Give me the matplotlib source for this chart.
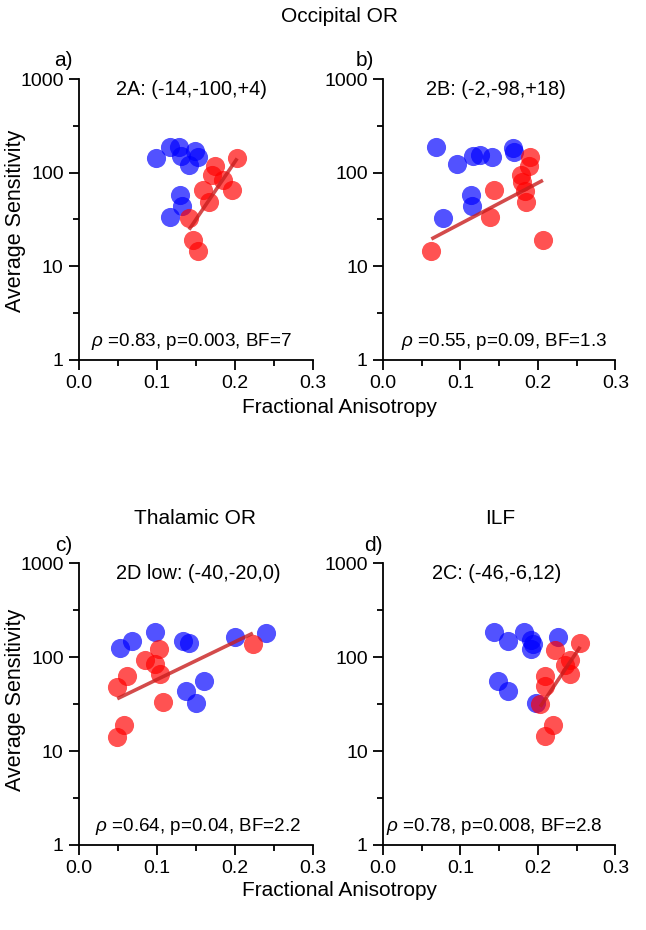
import numpy as np
import matplotlib
matplotlib.use("Agg")
from matplotlib import pyplot as plt
from matplotlib.ticker import FixedLocator, NullFormatter

plt.rcParams["font.family"] = ["Liberation Sans", "DejaVu Sans"]
plt.rcParams["mathtext.fontset"] = "custom"
plt.rcParams["mathtext.it"] = "Liberation Sans:italic"
plt.rcParams["mathtext.rm"] = "Liberation Sans"

# panel a: 2A
a_blue_x = [0.099, 0.117, 0.128, 0.131, 0.141, 0.149, 0.152, 0.130, 0.132, 0.116]
a_blue_y = [145, 186, 186, 152, 121, 170, 148, 58, 44.5, 34]
a_red_x = [0.2026, 0.174, 0.171, 0.184, 0.196, 0.159, 0.166, 0.141, 0.146, 0.152]
a_red_y = [142, 118, 94, 84, 66, 65, 49, 32.5, 19, 14.4]

# panel b: 2B
b_blue_x = [0.069, 0.0955, 0.116, 0.1256, 0.1406, 0.168, 0.1695, 0.114, 0.115, 0.078]
b_blue_y = [190, 124, 152, 154, 146, 182, 168, 58, 44.5, 33]
b_red_x = [0.190, 0.188, 0.1785, 0.180, 0.1837, 0.143, 0.1845, 0.1376, 0.2065, 0.0624]
b_red_y = [146, 118, 94, 80, 64, 66, 49, 34, 19, 14.4]

# panel c: 2D low
c_blue_x = [0.0527, 0.0685, 0.097, 0.133, 0.141, 0.2004, 0.240, 0.1606, 0.137, 0.150]
c_blue_y = [124, 148, 186, 149, 140, 162, 179, 56, 44, 32.5]
c_red_x = [0.2227, 0.1028, 0.0848, 0.0976, 0.104, 0.062, 0.049, 0.108, 0.0578, 0.049]
c_red_y = [136, 121, 94, 84, 66, 63, 48, 33, 19, 14]

# panel d: 2C
d_blue_x = [0.1437, 0.162, 0.182, 0.191, 0.1935, 0.191, 0.2254, 0.148, 0.162, 0.198]
d_blue_y = [186, 148, 186, 152, 136, 121, 165, 56, 43, 32.5]
d_red_x = [0.2546, 0.222, 0.241, 0.235, 0.2417, 0.2095, 0.2086, 0.203, 0.220, 0.2086]
d_red_y = [140, 119, 93, 82, 66, 63, 49, 32, 19, 14.4]

titles = ["2A: (-14,-100,+4)", "2B: (-2,-98,+18)", "2D low: (-40,-20,0)", "2C: (-46,-6,12)"]
stats = [
    r"$\rho$ =0.83, p=0.003, BF=7",
    r"$\rho$ =0.55, p=0.09, BF=1.3",
    r"$\rho$ =0.64, p=0.04, BF=2.2",
    r"$\rho$ =0.78, p=0.008, BF=2.8",
]
letters = ["a)", "b)", "c)", "d)"]

panels = [
    (a_blue_x, a_blue_y, a_red_x, a_red_y),
    (b_blue_x, b_blue_y, b_red_x, b_red_y),
    (c_blue_x, c_blue_y, c_red_x, c_red_y),
    (d_blue_x, d_blue_y, d_red_x, d_red_y),
]

rects = [
    [0.1223, 0.613, 0.3625, 0.302],
    [0.593, 0.613, 0.3595, 0.302],
    [0.1223, 0.0914, 0.3625, 0.3032],
    [0.593, 0.0914, 0.3595, 0.3032],
]
letter_pos = [(0.084, 0.935), (0.551, 0.935), (0.086, 0.413), (0.563, 0.413)]
title_x = [0.48, 0.485, 0.51, 0.49]
stat_x = [0.48, 0.52, 0.51, 0.48]

fig = plt.figure(figsize=(6.46, 9.30), dpi=100)

for i, (bx, by, rx, ry) in enumerate(panels):
    ax = fig.add_axes(rects[i])
    ax.scatter(bx, by, s=190, color=(0, 0, 1), alpha=0.68, linewidths=0, zorder=2)
    ax.scatter(rx, ry, s=190, color=(1, 0, 0), alpha=0.68, linewidths=0, zorder=3)

    # linear fit in log space over the red points
    rx_arr = np.array(rx)
    k, b = np.polyfit(rx_arr, np.log10(ry), 1)
    xs = np.array([rx_arr.min(), rx_arr.max()])
    ax.plot(xs, 10 ** (k * xs + b), color="#c81e1e", alpha=0.8, lw=2.6,
            solid_capstyle="butt", zorder=4)

    ax.set_yscale("log")
    ax.set_xlim(0, 0.3)
    ax.set_ylim(1, 1000)
    ax.set_yticks([1, 10, 100, 1000])
    ax.set_yticklabels(["1", "10", "100", "1000"])
    ax.yaxis.set_minor_locator(FixedLocator([10 ** 0.5, 10 ** 1.5, 10 ** 2.5]))
    ax.yaxis.set_minor_formatter(NullFormatter())
    ax.set_xticks([0.0, 0.1, 0.2, 0.3])
    ax.set_xticklabels(["0.0", "0.1", "0.2", "0.3"])
    ax.xaxis.set_minor_locator(FixedLocator([0.05, 0.15, 0.25]))
    ax.tick_params(which="major", direction="out", length=7, width=1.3,
                   labelsize=14, pad=4)
    ax.tick_params(which="minor", direction="out", length=4, width=1.3)
    for side in ["top", "right"]:
        ax.spines[side].set_visible(False)
    for side in ["left", "bottom"]:
        ax.spines[side].set_linewidth(1.3)
    ax.patch.set_alpha(0)

    ax.text(title_x[i], 0.963, titles[i], transform=ax.transAxes,
            ha="center", va="center", fontsize=14.3)
    ax.text(stat_x[i], 0.065, stats[i], transform=ax.transAxes,
            ha="center", va="center", fontsize=13.6)
    fig.text(letter_pos[i][0], letter_pos[i][1], letters[i],
             ha="left", va="center", fontsize=15)

fig.text(0.526, 0.982, "Occipital OR", ha="center", va="center", fontsize=15)
fig.text(0.302, 0.443, "Thalamic OR", ha="center", va="center", fontsize=15)
fig.text(0.774, 0.443, "ILF", ha="center", va="center", fontsize=15)
fig.text(0.526, 0.562, "Fractional Anisotropy", ha="center", va="center", fontsize=15)
fig.text(0.526, 0.043, "Fractional Anisotropy", ha="center", va="center", fontsize=15)
fig.text(0.024, 0.763, "Average Sensitivity", rotation=90, ha="center", va="center", fontsize=15.5)
fig.text(0.024, 0.247, "Average Sensitivity", rotation=90, ha="center", va="center", fontsize=15.5)

fig.savefig("out.png", dpi=100)
